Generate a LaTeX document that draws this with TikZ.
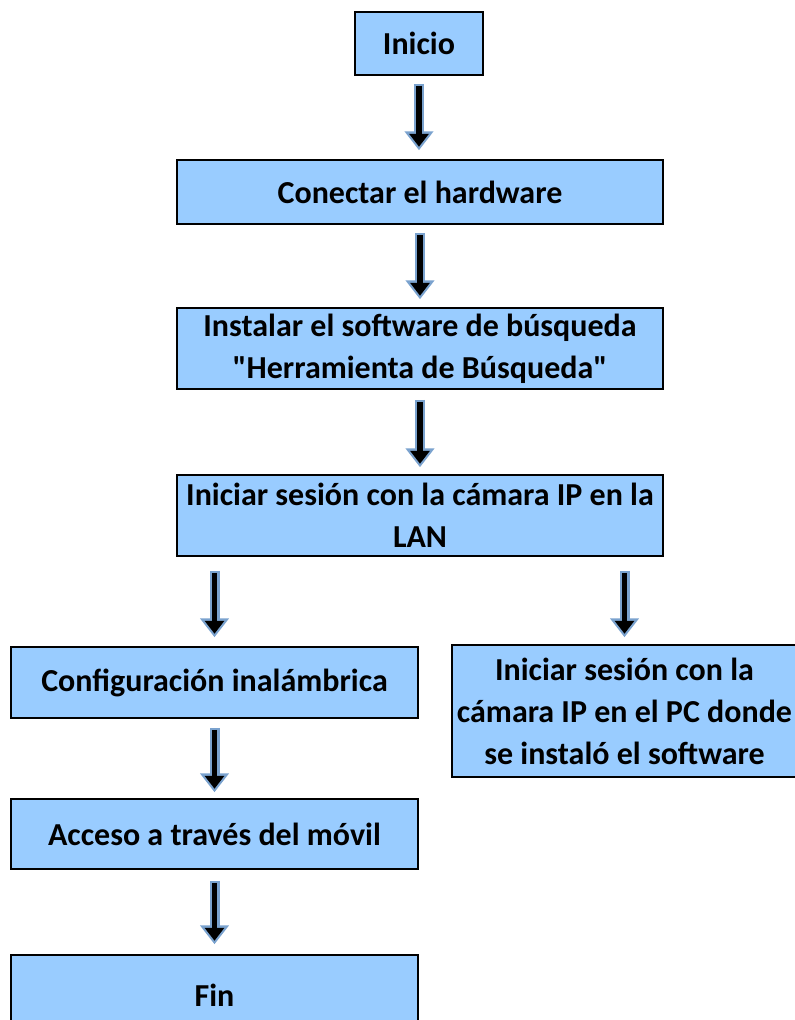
\documentclass[tikz,border=0pt]{standalone}
\usepackage{fontspec}
\setmainfont{Carlito}[Ligatures=TeXOff]
\usetikzlibrary{arrows.meta}
\definecolor{boxblue}{RGB}{153,204,255}
\definecolor{edgeblue}{RGB}{122,162,206}
\tikzset{
  box/.style={draw=black, line width=1.5pt, fill=boxblue, align=center, inner sep=0pt,
    font=\fontsize{32}{42}\selectfont\bfseries},
  flow/.style={line width=10pt, draw=edgeblue, -{Triangle[width=28pt,length=19pt]},
    postaction={draw=black, line width=5.5pt, shorten <=2pt, shorten >=3.5pt,
      -{Triangle[width=19pt,length=13pt]}}}
}
\begin{document}
\begin{tikzpicture}[x=1pt, y=-1pt]
  \useasboundingbox (0,0) rectangle (795,1020);
  \node [box, minimum width=128pt, minimum height=63pt] (inicio) at (419,43.5) {Inicio};
  \node [box, minimum width=486pt, minimum height=64pt] (conectar) at (420,192) {Conectar el hardware};
  \node [box, minimum width=486pt, minimum height=81pt] (instalar) at (420,348.5) {Instalar el software de búsqueda\\"Herramienta de Búsqueda"};
  \node [box, minimum width=486pt, minimum height=81pt] (sesion) at (420,515.5) {Iniciar sesión con la cámara IP en la\\LAN};
  \node [box, minimum width=407pt, minimum height=71pt] (config) at (214.5,682.5) {Configuración inalámbrica};
  \node [box, minimum width=345pt, minimum height=132pt] (sesionpc) at (624.5,711) {Iniciar sesión con la\\cámara IP en el PC donde\\se instaló el software};
  \node [box, minimum width=407pt, minimum height=70pt] (acceso) at (214.5,834) {Acceso a través del móvil};
  \node [box, minimum width=407pt, minimum height=80pt] (fin) at (214.5,995) {Fin};
  \draw [flow] ([yshift=-8pt]inicio.south) -- ([yshift=9pt]conectar.north -| inicio.south);
  \draw [flow] ([yshift=-8pt]conectar.south) -- ([yshift=8pt]instalar.north);
  \draw [flow] ([yshift=-10pt]instalar.south) -- ([yshift=7pt]sesion.north);
  \draw [flow] ([yshift=-14pt]sesion.south -| config.north) -- ([yshift=9pt]config.north);
  \draw [flow] ([yshift=-14pt]sesion.south -| sesionpc.north) -- ([yshift=7pt]sesionpc.north);
  \draw [flow] ([yshift=-9pt]config.south) -- ([yshift=6pt]acceso.north);
  \draw [flow] ([yshift=-11pt]acceso.south) -- ([yshift=10pt]fin.north);
\end{tikzpicture}
\end{document}
